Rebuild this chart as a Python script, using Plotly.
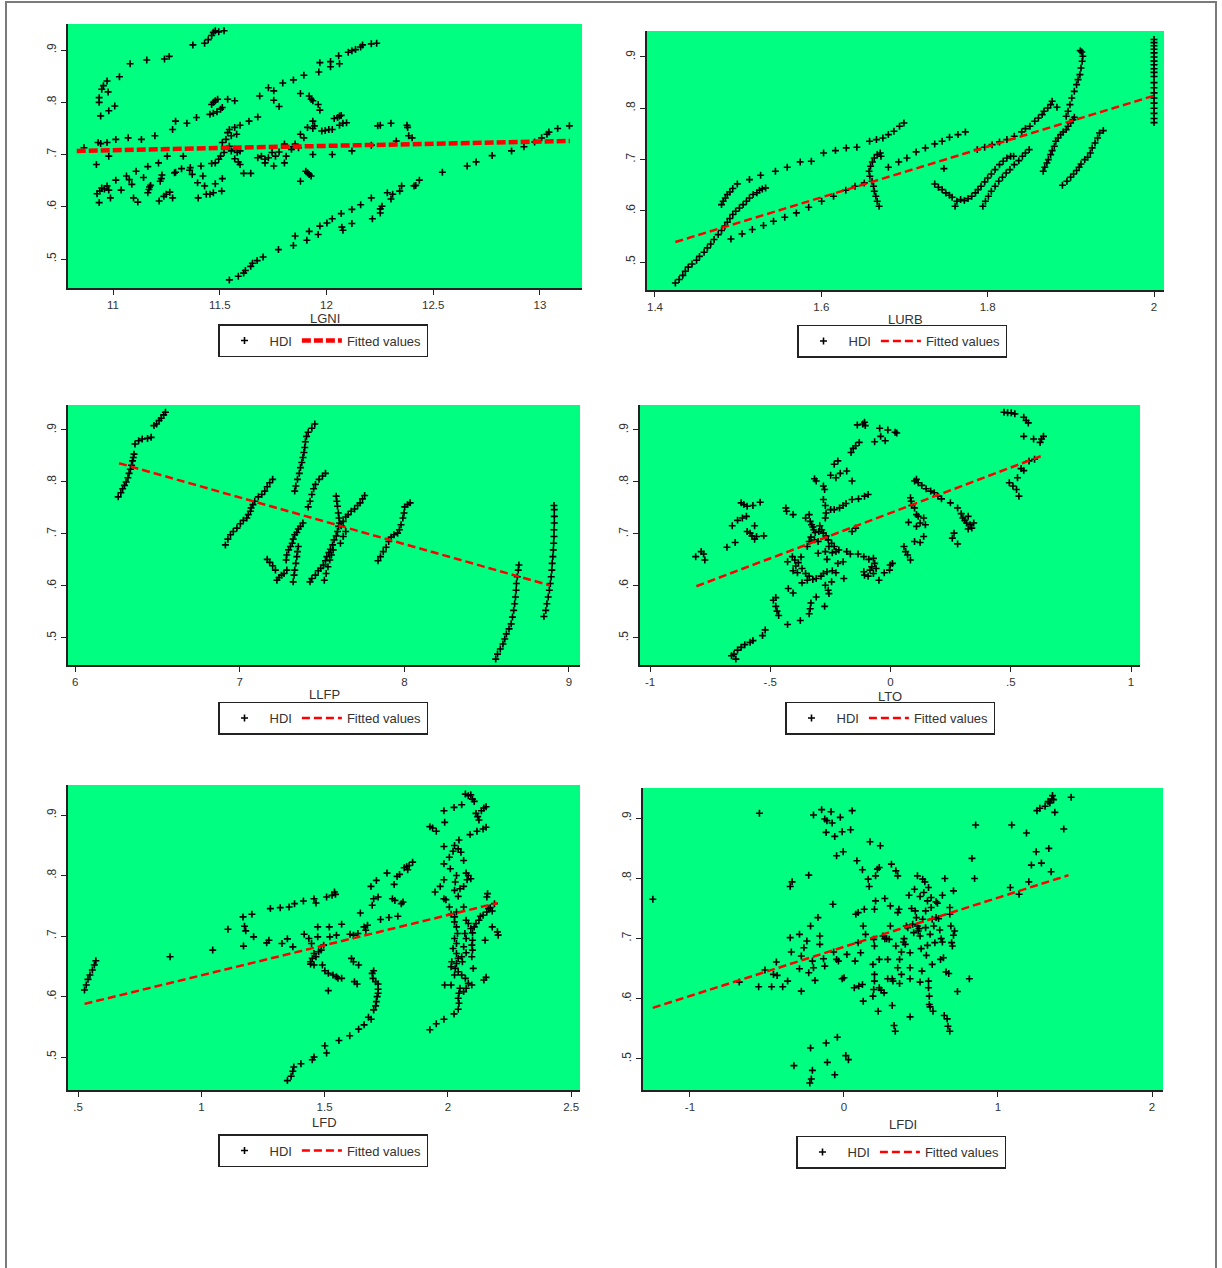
import plotly.graph_objects as go

# ---------------- data ----------------
LGNI_HDI = [
    (10.942, 0.774), (10.935, 0.800), (10.935, 0.809), (10.947, 0.825), (10.955, 0.832), (10.972, 0.841),
    (10.977, 0.820), (10.980, 0.784), (11.008, 0.793), (11.030, 0.849), (11.080, 0.874), (11.158, 0.881),
    (11.241, 0.883), (11.263, 0.888), (11.374, 0.910), (11.429, 0.913), (11.446, 0.920), (11.462, 0.928),
    (11.470, 0.934), (11.479, 0.937), (11.495, 0.935), (11.520, 0.937),
    (10.930, 0.723), (10.942, 0.721), (10.972, 0.723), (11.013, 0.729), (11.071, 0.732), (11.133, 0.729),
    (11.196, 0.736), (11.279, 0.748), (11.293, 0.764), (11.346, 0.760), (11.391, 0.771), (10.864, 0.713),
    (10.980, 0.697), (11.254, 0.697), (11.329, 0.697), (10.922, 0.681), (11.163, 0.677), (11.213, 0.684),
    (11.362, 0.675), (11.412, 0.678), (11.462, 0.683), (10.925, 0.625), (10.938, 0.630), (10.947, 0.636),
    (10.960, 0.634), (10.972, 0.640), (10.980, 0.632), (10.988, 0.617), (10.935, 0.608), (11.038, 0.632),
    (11.013, 0.651), (11.063, 0.659), (11.076, 0.652), (11.088, 0.643), (11.096, 0.617), (11.116, 0.609),
    (11.108, 0.668), (11.143, 0.656), (11.163, 0.627), (11.168, 0.633), (11.171, 0.638), (11.176, 0.641),
    (11.216, 0.611), (11.221, 0.649), (11.226, 0.654), (11.229, 0.661), (11.238, 0.620), (11.249, 0.624),
    (11.266, 0.628), (11.279, 0.617), (11.288, 0.665), (11.293, 0.666), (11.321, 0.673), (11.359, 0.670),
    (11.371, 0.662), (11.396, 0.646), (11.399, 0.617), (11.421, 0.659), (11.429, 0.640), (11.437, 0.624),
    (11.454, 0.624), (11.479, 0.644), (11.470, 0.627), (11.512, 0.654), (11.509, 0.630),
    (11.462, 0.796), (11.470, 0.800), (11.479, 0.803), (11.490, 0.806), (11.537, 0.806), (11.570, 0.803),
    (11.454, 0.777), (11.470, 0.779), (11.487, 0.782), (11.504, 0.787), (11.512, 0.790),
    (11.512, 0.723), (11.529, 0.729), (11.537, 0.742), (11.545, 0.748), (11.554, 0.736), (11.570, 0.752),
    (11.579, 0.739), (11.595, 0.756), (11.637, 0.764), (11.545, 0.716), (11.554, 0.707), (11.570, 0.710),
    (11.582, 0.704), (11.595, 0.707), (11.520, 0.704), (11.504, 0.697), (11.495, 0.691), (11.479, 0.684),
    (11.570, 0.692), (11.587, 0.686), (11.595, 0.681), (11.612, 0.664), (11.645, 0.664), (11.678, 0.694),
    (11.695, 0.697), (11.712, 0.691), (11.728, 0.694), (11.745, 0.704), (11.761, 0.697), (11.778, 0.705),
    (11.803, 0.720), (11.811, 0.697), (11.845, 0.715), (11.853, 0.720), (11.869, 0.713), (11.878, 0.739),
    (11.894, 0.732), (11.911, 0.752), (11.753, 0.678), (11.803, 0.684), (11.836, 0.710), (11.712, 0.684),
    (11.936, 0.764), (11.936, 0.750), (11.936, 0.700), (11.903, 0.668), (11.911, 0.665), (11.919, 0.662),
    (11.928, 0.659), (11.878, 0.649),
    (11.678, 0.772), (11.687, 0.812), (11.728, 0.828), (11.753, 0.822), (11.753, 0.804), (11.778, 0.792),
    (11.795, 0.837), (11.845, 0.843), (11.894, 0.852), (11.964, 0.858), (11.969, 0.876), (12.019, 0.878),
    (12.019, 0.868), (12.061, 0.874), (12.057, 0.889), (12.102, 0.896), (12.119, 0.899), (12.136, 0.901),
    (12.160, 0.906), (12.169, 0.910), (12.210, 0.912), (12.235, 0.913),
    (11.878, 0.817), (11.919, 0.812), (11.928, 0.806), (11.936, 0.803), (11.961, 0.796), (11.969, 0.785),
    (11.944, 0.755), (11.978, 0.745), (11.994, 0.746), (12.011, 0.748), (12.027, 0.748), (12.036, 0.769),
    (12.052, 0.771), (12.061, 0.774), (12.069, 0.775), (12.077, 0.760), (12.094, 0.761), (12.061, 0.756),
    (12.027, 0.700), (12.119, 0.707), (12.210, 0.718), (12.240, 0.755), (12.252, 0.756), (12.302, 0.760),
    (12.327, 0.726), (12.377, 0.756), (12.380, 0.752), (12.385, 0.736), (12.401, 0.732),
    (11.545, 0.460), (11.587, 0.467), (11.612, 0.473), (11.620, 0.478), (11.645, 0.486), (11.653, 0.492),
    (11.675, 0.497), (11.703, 0.504), (11.775, 0.518), (11.845, 0.526), (11.853, 0.544), (11.908, 0.536),
    (11.919, 0.553), (11.961, 0.547), (11.969, 0.563), (12.002, 0.569), (12.027, 0.577), (12.069, 0.587),
    (12.072, 0.561), (12.077, 0.555), (12.119, 0.595), (12.119, 0.568), (12.160, 0.604), (12.210, 0.617),
    (12.215, 0.577), (12.252, 0.588), (12.252, 0.596), (12.260, 0.601), (12.285, 0.627), (12.302, 0.615),
    (12.310, 0.624), (12.343, 0.630), (12.352, 0.640), (12.410, 0.640), (12.418, 0.641), (12.435, 0.651),
    (12.543, 0.666), (12.659, 0.678), (12.701, 0.686), (12.776, 0.698), (12.867, 0.707), (12.925, 0.715),
    (12.975, 0.724), (13.008, 0.732), (13.033, 0.739), (13.042, 0.743), (13.083, 0.750), (13.138, 0.755),
]
LGNI_FIT_X = [10.83, 13.14]
LGNI_FIT_Y = [0.707, 0.726]

LURB_HDI = [
    (1.4245, 0.459), (1.429, 0.466), (1.4334, 0.474), (1.4365, 0.482), (1.440, 0.490), (1.4445, 0.496),
    (1.450, 0.5035), (1.4535, 0.511), (1.459, 0.519), (1.463, 0.5275), (1.467, 0.535), (1.471, 0.544),
    (1.476, 0.5535), (1.480, 0.5615), (1.484, 0.570), (1.487, 0.5776), (1.490, 0.5848), (1.4935, 0.5926),
    (1.497, 0.599), (1.5015, 0.6055), (1.506, 0.612), (1.510, 0.6185), (1.5136, 0.625), (1.518, 0.6316),
    (1.5225, 0.635), (1.5256, 0.640), (1.529, 0.6426), (1.533, 0.6446),
    (1.480, 0.612), (1.482, 0.6185), (1.4846, 0.625), (1.487, 0.6316), (1.490, 0.6368), (1.4935, 0.6433),
    (1.499, 0.6524),
    (1.5136, 0.6608), (1.527, 0.6693), (1.5448, 0.677), (1.559, 0.6849), (1.5746, 0.6953), (1.588, 0.6966),
    (1.6027, 0.7128), (1.617, 0.7174), (1.630, 0.7226), (1.6427, 0.724), (1.658, 0.7356), (1.6663, 0.7388),
    (1.674, 0.742), (1.6806, 0.7486), (1.6873, 0.755), (1.694, 0.7648), (1.6993, 0.7713),
    (1.4913, 0.545), (1.5047, 0.5549), (1.517, 0.5633), (1.5305, 0.5711), (1.5425, 0.5796), (1.556, 0.5874),
    (1.570, 0.5958), (1.5848, 0.6068), (1.6004, 0.6186), (1.6147, 0.6283), (1.6294, 0.640), (1.6405, 0.6478),
    (1.6516, 0.6543),
    (1.6695, 0.6088), (1.6672, 0.6186), (1.6655, 0.6283), (1.6637, 0.638), (1.6628, 0.6478), (1.661, 0.6576),
    (1.6583, 0.6673), (1.6574, 0.677), (1.6592, 0.6868), (1.6614, 0.6952), (1.6637, 0.703), (1.6672, 0.7096),
    (1.6708, 0.7128), (1.6717, 0.7063),
    (1.6806, 0.6849), (1.693, 0.6953), (1.7029, 0.703), (1.714, 0.7148), (1.7251, 0.7226), (1.7363, 0.7304),
    (1.7452, 0.7356), (1.7541, 0.7434), (1.7643, 0.7486), (1.7732, 0.7538),
    (1.7363, 0.6523), (1.7407, 0.6458), (1.7452, 0.6413), (1.7496, 0.6348), (1.7541, 0.6302), (1.7572, 0.6263),
    (1.7608, 0.6088), (1.763, 0.6186), (1.7675, 0.6218), (1.772, 0.6198), (1.7764, 0.6237), (1.7808, 0.6283),
    (1.7853, 0.6348), (1.7884, 0.6413), (1.792, 0.6478), (1.7964, 0.6563), (1.800, 0.664), (1.8044, 0.6718),
    (1.8089, 0.6803), (1.8142, 0.690), (1.8187, 0.6966), (1.8231, 0.703), (1.8276, 0.7063), (1.8312, 0.7063),
    (1.7474, 0.6822),
    (1.7942, 0.6088), (1.7973, 0.6186), (1.8009, 0.6283), (1.8044, 0.638), (1.8089, 0.6478), (1.8133, 0.6576),
    (1.8178, 0.6654), (1.8222, 0.6738), (1.8267, 0.6803), (1.832, 0.690), (1.8374, 0.6978), (1.8418, 0.7063),
    (1.8454, 0.7128), (1.8499, 0.7193),
    (1.7875, 0.7193), (1.7964, 0.7239), (1.8053, 0.729), (1.8142, 0.7343), (1.8231, 0.7388), (1.832, 0.7453),
    (1.8409, 0.7538), (1.8454, 0.7603), (1.8508, 0.7648), (1.8566, 0.7746), (1.861, 0.781), (1.8655, 0.7876),
    (1.8677, 0.794), (1.8722, 0.8006), (1.8757, 0.807), (1.8775, 0.8136), (1.8833, 0.8019),
    (1.8668, 0.677), (1.8686, 0.6849), (1.8712, 0.6933), (1.873, 0.6998), (1.8757, 0.7095), (1.8775, 0.7173),
    (1.8801, 0.7258), (1.8819, 0.7356), (1.8846, 0.742), (1.8877, 0.7486), (1.8908, 0.7538), (1.8944, 0.7583),
    (1.8966, 0.7648), (1.8997, 0.7713), (1.9024, 0.7778), (1.9042, 0.7823),
    (1.8944, 0.7843), (1.8966, 0.794), (1.8989, 0.807), (1.9011, 0.820), (1.9042, 0.833), (1.9069, 0.846),
    (1.9087, 0.8558), (1.9109, 0.8655), (1.9122, 0.8786), (1.9136, 0.8916), (1.9144, 0.9013), (1.9131, 0.9098),
    (1.9113, 0.9124),
    (1.8899, 0.6498), (1.8953, 0.6576), (1.8998, 0.6654), (1.9033, 0.6718), (1.9069, 0.6784), (1.910, 0.6848),
    (1.9122, 0.6913), (1.9167, 0.6998), (1.9202, 0.7044), (1.9234, 0.7128), (1.9256, 0.7226), (1.9291, 0.7323),
    (1.9322, 0.742), (1.9345, 0.7518), (1.939, 0.7564),
    (2.0, 0.934), (2.0, 0.928), (2.0, 0.922), (2.0, 0.915), (2.0, 0.908), (2.0, 0.900), (2.0, 0.892),
    (2.0, 0.885), (2.0, 0.877), (2.0, 0.870), (2.0, 0.862), (2.0, 0.850), (2.0, 0.840), (2.0, 0.830),
    (2.0, 0.820), (2.0, 0.810), (2.0, 0.800), (2.0, 0.790), (2.0, 0.780), (2.0, 0.772),
]
LURB_FIT_X = [1.4245, 2.001]
LURB_FIT_Y = [0.539, 0.825]

LLFP_HDI = [
    (6.262, 0.7714), (6.278, 0.7792), (6.289, 0.787), (6.300, 0.7934), (6.310, 0.800), (6.321, 0.8082),
    (6.328, 0.8166), (6.336, 0.8244), (6.343, 0.8321), (6.349, 0.8405), (6.354, 0.847), (6.358, 0.8535),
    (6.364, 0.8729), (6.386, 0.8793), (6.408, 0.8825), (6.440, 0.8838), (6.462, 0.8858), (6.479, 0.9084),
    (6.495, 0.9116), (6.510, 0.9181), (6.523, 0.9226), (6.538, 0.929), (6.549, 0.9342),
    (6.913, 0.679), (6.928, 0.690), (6.944, 0.6984), (6.961, 0.7048), (6.983, 0.7113), (7.004, 0.7197),
    (7.022, 0.7262), (7.043, 0.7307), (7.052, 0.7372), (7.065, 0.7436), (7.069, 0.7501), (7.080, 0.7565),
    (7.091, 0.763), (7.113, 0.7714), (7.134, 0.7759), (7.152, 0.7824), (7.167, 0.7908), (7.182, 0.7985),
    (7.200, 0.805),
    (7.167, 0.6512), (7.182, 0.6454), (7.200, 0.6389), (7.217, 0.6305), (7.226, 0.6111), (7.239, 0.6163),
    (7.254, 0.6208), (7.269, 0.6241), (7.286, 0.6305),
    (7.282, 0.650), (7.286, 0.6596), (7.297, 0.6693), (7.308, 0.6758), (7.319, 0.6822), (7.325, 0.690),
    (7.334, 0.6984), (7.347, 0.7029), (7.356, 0.7094), (7.369, 0.7145), (7.384, 0.721),
    (7.325, 0.6079), (7.330, 0.6208), (7.334, 0.6305), (7.341, 0.6435), (7.347, 0.6564), (7.351, 0.6661),
    (7.356, 0.6758),
    (7.334, 0.7824), (7.341, 0.7921), (7.351, 0.805), (7.362, 0.8166), (7.369, 0.8276), (7.377, 0.8373),
    (7.384, 0.847), (7.390, 0.8567), (7.395, 0.8664), (7.399, 0.8774), (7.406, 0.8877), (7.416, 0.8955),
    (7.438, 0.9032), (7.456, 0.9116),
    (7.416, 0.752), (7.427, 0.763), (7.438, 0.7759), (7.449, 0.7869), (7.460, 0.7953), (7.482, 0.805),
    (7.503, 0.8115), (7.521, 0.8166),
    (7.427, 0.6079), (7.438, 0.6144), (7.460, 0.6208), (7.477, 0.6292), (7.492, 0.6338), (7.508, 0.6402),
    (7.521, 0.6486), (7.529, 0.6564), (7.542, 0.6642), (7.551, 0.6706), (7.564, 0.679), (7.573, 0.6887),
    (7.586, 0.6964), (7.594, 0.7048), (7.601, 0.7145),
    (7.514, 0.6111), (7.525, 0.6241), (7.536, 0.637), (7.547, 0.650), (7.557, 0.6596), (7.568, 0.6693),
    (7.586, 0.7727), (7.590, 0.763), (7.594, 0.7533), (7.599, 0.7404), (7.603, 0.7307), (7.607, 0.721),
    (7.616, 0.7158), (7.629, 0.7242), (7.644, 0.7326), (7.659, 0.7372), (7.677, 0.7436), (7.698, 0.7481),
    (7.716, 0.7546), (7.731, 0.7598), (7.746, 0.7675), (7.759, 0.774),
    (7.612, 0.6822), (7.629, 0.6951), (7.644, 0.7048),
    (7.840, 0.6486), (7.855, 0.6564), (7.872, 0.6661), (7.889, 0.6745), (7.905, 0.6855), (7.920, 0.6939),
    (7.937, 0.6984), (7.959, 0.7016), (7.970, 0.7081), (7.980, 0.7178), (7.991, 0.7307), (7.998, 0.7404),
    (8.002, 0.752), (8.020, 0.7565), (8.035, 0.7598),
    (8.555, 0.4593), (8.566, 0.469), (8.583, 0.4787), (8.599, 0.4884), (8.610, 0.4981), (8.620, 0.5078),
    (8.636, 0.5174), (8.649, 0.5271), (8.657, 0.5401), (8.664, 0.553), (8.670, 0.5659), (8.675, 0.5788),
    (8.679, 0.5918), (8.681, 0.6047), (8.686, 0.6176), (8.692, 0.6305), (8.696, 0.6402),
    (8.848, 0.5414), (8.859, 0.553), (8.866, 0.5659), (8.874, 0.5788), (8.881, 0.5918), (8.887, 0.6047),
    (8.892, 0.6176), (8.896, 0.6305), (8.898, 0.6435), (8.902, 0.6564), (8.905, 0.6693), (8.907, 0.6822),
    (8.909, 0.6952), (8.909, 0.7081), (8.911, 0.721), (8.911, 0.7339), (8.911, 0.7468), (8.909, 0.7546),
]
LLFP_FIT_X = [6.267, 8.881]
LLFP_FIT_Y = [0.836, 0.6015]

LTO_HDI = [
    (-0.810, 0.6564), (-0.787, 0.6661), (-0.777, 0.6616), (-0.772, 0.650), (-0.680, 0.6745), (-0.646, 0.6835),
    (-0.658, 0.7158), (-0.636, 0.7262), (-0.616, 0.7307), (-0.599, 0.7339), (-0.621, 0.7598), (-0.610, 0.7565),
    (-0.596, 0.7533), (-0.572, 0.7546), (-0.542, 0.7611), (-0.596, 0.7048), (-0.584, 0.7016), (-0.576, 0.6964),
    (-0.565, 0.690), (-0.557, 0.6951), (-0.565, 0.7158), (-0.527, 0.6964), (-0.435, 0.7501), (-0.432, 0.7436),
    (-0.405, 0.7372),
    (-0.353, 0.7307), (-0.338, 0.7372), (-0.334, 0.7242), (-0.328, 0.7178), (-0.323, 0.7133), (-0.319, 0.7081),
    (-0.313, 0.7029), (-0.331, 0.6939), (-0.338, 0.6855), (-0.346, 0.6758), (-0.316, 0.6887), (-0.301, 0.6855),
    (-0.298, 0.7048), (-0.286, 0.7081), (-0.294, 0.7158), (-0.279, 0.7016), (-0.268, 0.6964), (-0.259, 0.6887),
    (-0.256, 0.6758), (-0.245, 0.6822), (-0.234, 0.6758), (-0.242, 0.6641), (-0.227, 0.6661), (-0.215, 0.6693),
    (-0.182, 0.6661), (-0.167, 0.6616), (-0.301, 0.6629), (-0.271, 0.6661), (-0.264, 0.6512), (-0.428, 0.6467),
    (-0.408, 0.6564), (-0.398, 0.650), (-0.383, 0.6448), (-0.372, 0.6557), (-0.394, 0.6383), (-0.405, 0.6292),
    (-0.387, 0.6253), (-0.368, 0.6337), (-0.353, 0.6241), (-0.338, 0.6189), (-0.323, 0.6124), (-0.309, 0.6143),
    (-0.289, 0.6189), (-0.279, 0.6241), (-0.264, 0.6273), (-0.242, 0.6292), (-0.227, 0.6253), (-0.245, 0.6079),
    (-0.368, 0.606), (-0.346, 0.6111), (-0.219, 0.6434), (-0.197, 0.6467), (-0.194, 0.6143), (-0.425, 0.595),
    (-0.405, 0.5866), (-0.477, 0.5776), (-0.487, 0.5724), (-0.477, 0.5608), (-0.472, 0.5517), (-0.465, 0.5433),
    (-0.428, 0.5259), (-0.375, 0.5336), (-0.338, 0.5465), (-0.334, 0.5563), (-0.331, 0.5672), (-0.309, 0.5789),
    (-0.274, 0.5608), (-0.271, 0.6015), (-0.259, 0.5918), (-0.256, 0.5853), (-0.521, 0.5155), (-0.532, 0.5045),
    (-0.572, 0.4949), (-0.584, 0.4916), (-0.606, 0.4871), (-0.621, 0.4819), (-0.636, 0.4767), (-0.651, 0.469),
    (-0.661, 0.4658), (-0.643, 0.4593),
    (-0.316, 0.8063), (-0.309, 0.8018), (-0.279, 0.7921), (-0.274, 0.7856), (-0.279, 0.7662), (-0.271, 0.7546),
    (-0.268, 0.7404), (-0.271, 0.7307), (-0.249, 0.7468), (-0.234, 0.7468), (-0.212, 0.7501), (-0.197, 0.7546),
    (-0.185, 0.7585), (-0.160, 0.7662), (-0.133, 0.7675), (-0.108, 0.7727), (-0.093, 0.7759), (-0.249, 0.8128),
    (-0.227, 0.8082), (-0.209, 0.8166), (-0.182, 0.8212), (-0.160, 0.8018), (-0.234, 0.8341), (-0.219, 0.8405),
    (-0.164, 0.8567), (-0.155, 0.8645), (-0.145, 0.8696), (-0.130, 0.8761), (-0.138, 0.9097), (-0.115, 0.9116),
    (-0.105, 0.9084), (-0.108, 0.9149), (-0.066, 0.8774), (-0.045, 0.9032), (-0.041, 0.8877), (-0.022, 0.8793),
    (-0.011, 0.900), (0.019, 0.8955), (0.026, 0.8942), (-0.160, 0.7048), (-0.145, 0.7113),
    (-0.135, 0.6616), (-0.111, 0.6564), (-0.090, 0.6512), (-0.071, 0.6531), (-0.066, 0.6434), (-0.078, 0.637),
    (-0.085, 0.6305), (-0.111, 0.6273), (-0.108, 0.6208), (-0.093, 0.6189), (-0.071, 0.6241), (-0.048, 0.6111),
    (-0.026, 0.6253), (-0.004, 0.6305), (-0.001, 0.6402), (0.008, 0.6434), (-0.060, 0.6337),
    (0.083, 0.7695), (0.086, 0.763), (0.088, 0.7546), (0.100, 0.8018), (0.108, 0.805), (0.115, 0.7985),
    (0.130, 0.7934), (0.148, 0.787), (0.167, 0.7824), (0.182, 0.7792), (0.197, 0.7727), (0.212, 0.7675),
    (0.100, 0.7501), (0.108, 0.7372), (0.115, 0.7339), (0.123, 0.721), (0.138, 0.7307), (0.145, 0.7178),
    (0.075, 0.7223), (0.108, 0.7145), (0.138, 0.6951), (0.123, 0.6835), (0.100, 0.6855), (0.056, 0.6758),
    (0.063, 0.6661), (0.071, 0.6596), (0.083, 0.6499), (0.249, 0.7598), (0.279, 0.7501), (0.294, 0.7391),
    (0.301, 0.7307), (0.309, 0.7262), (0.316, 0.721), (0.323, 0.7339), (0.331, 0.7178), (0.338, 0.7113),
    (0.346, 0.721), (0.323, 0.7094), (0.264, 0.7016), (0.257, 0.6919), (0.279, 0.6809),
    (0.472, 0.9342), (0.487, 0.9329), (0.502, 0.9329), (0.517, 0.931), (0.554, 0.9245), (0.564, 0.9181),
    (0.573, 0.9136), (0.554, 0.8877), (0.595, 0.8825), (0.622, 0.8761), (0.628, 0.8825), (0.636, 0.8877),
    (0.494, 0.7985), (0.509, 0.7921), (0.524, 0.7856), (0.534, 0.7727), (0.528, 0.8082), (0.543, 0.8257),
    (0.554, 0.8218), (0.576, 0.8405), (0.599, 0.8438),
]
LTO_FIT_X = [-0.807, 0.636]
LTO_FIT_Y = [0.5995, 0.8515]

LFD_HDI = [
    (0.526, 0.6108), (0.533, 0.619), (0.540, 0.6284), (0.548, 0.6355), (0.558, 0.6438), (0.566, 0.652),
    (0.572, 0.6591), (0.873, 0.6657), (1.046, 0.6767), (1.108, 0.7112), (1.169, 0.7316), (1.171, 0.6833),
    (1.175, 0.7162), (1.180, 0.7085), (1.205, 0.7359), (1.212, 0.6986), (1.265, 0.6887), (1.274, 0.6931),
    (1.280, 0.7453), (1.320, 0.7469), (1.327, 0.6877), (1.349, 0.6953), (1.356, 0.748), (1.378, 0.7535),
    (1.414, 0.7579), (1.417, 0.703), (1.457, 0.7617), (1.465, 0.7546), (1.508, 0.7645), (1.530, 0.7672),
    (1.540, 0.7727), (1.544, 0.7689), (1.371, 0.6821), (1.436, 0.6959), (1.447, 0.6876), (1.457, 0.6712),
    (1.450, 0.663), (1.443, 0.6575), (1.443, 0.6536), (1.457, 0.652), (1.465, 0.6657), (1.476, 0.6739),
    (1.486, 0.6767), (1.472, 0.7151), (1.472, 0.6986), (1.496, 0.6849), (1.519, 0.7151), (1.521, 0.6986),
    (1.548, 0.7014), (1.569, 0.7195), (1.491, 0.652), (1.501, 0.6427), (1.515, 0.6383), (1.534, 0.6355),
    (1.548, 0.6328), (1.554, 0.630), (1.569, 0.630), (1.515, 0.6097), (1.609, 0.663), (1.617, 0.6575),
    (1.603, 0.703), (1.617, 0.7014), (1.635, 0.7041), (1.638, 0.652), (1.621, 0.6246), (1.632, 0.6207),
    (1.645, 0.7381), (1.660, 0.7151), (1.667, 0.7096), (1.674, 0.7178), (1.688, 0.782), (1.693, 0.7508),
    (1.699, 0.7617), (1.710, 0.7919), (1.717, 0.7645), (1.727, 0.7272), (1.753, 0.804), (1.761, 0.7305),
    (1.775, 0.7617), (1.785, 0.7589), (1.782, 0.7853), (1.794, 0.7985), (1.797, 0.7327), (1.804, 0.8018),
    (1.811, 0.7535), (1.818, 0.7562), (1.823, 0.8128), (1.833, 0.815), (1.837, 0.8095), (1.843, 0.8166),
    (1.857, 0.8221),
    (1.349, 0.461), (1.364, 0.4682), (1.371, 0.4764), (1.375, 0.4835), (1.404, 0.489), (1.450, 0.4956),
    (1.457, 0.500), (1.501, 0.5187), (1.508, 0.5066), (1.558, 0.5274), (1.602, 0.5351), (1.638, 0.5461),
    (1.660, 0.5532), (1.678, 0.5658), (1.689, 0.5625), (1.699, 0.5779), (1.707, 0.5845), (1.710, 0.5916),
    (1.713, 0.5999), (1.717, 0.6054), (1.717, 0.6119), (1.717, 0.6207), (1.707, 0.6246), (1.696, 0.630),
    (1.693, 0.6383), (1.699, 0.6427),
    (1.927, 0.545), (1.953, 0.5549), (1.984, 0.5625), (2.025, 0.5713), (2.042, 0.5789), (2.045, 0.5888),
    (2.042, 0.5971), (2.045, 0.6054), (1.987, 0.6191), (2.013, 0.6191), (2.049, 0.6136), (2.064, 0.6081),
    (2.074, 0.6136), (2.083, 0.6218), (2.097, 0.6191), (2.071, 0.630), (2.056, 0.6355), (2.042, 0.641),
    (2.027, 0.6355), (2.030, 0.6465), (2.013, 0.6492), (2.016, 0.6575), (2.035, 0.6547), (2.042, 0.663),
    (2.035, 0.6712), (2.021, 0.6794), (2.035, 0.6877), (2.027, 0.6959), (2.039, 0.7041), (2.035, 0.7151),
    (2.027, 0.7233), (2.027, 0.7316), (2.035, 0.7398), (2.013, 0.7359), (2.006, 0.748), (1.992, 0.7601),
    (1.984, 0.7617), (1.948, 0.7727), (1.969, 0.782), (1.984, 0.793), (2.027, 0.7755), (2.042, 0.7656),
    (2.049, 0.7782), (2.064, 0.782), (2.078, 0.793), (2.083, 0.8001), (2.074, 0.804), (2.093, 0.7946),
    (2.030, 0.7892), (2.035, 0.8001), (1.984, 0.8193), (2.010, 0.8111), (2.006, 0.8303), (2.021, 0.8402),
    (2.027, 0.8495), (2.045, 0.8588), (2.042, 0.844), (2.053, 0.8385), (2.064, 0.8248), (1.984, 0.8479),
    (1.927, 0.8808), (1.938, 0.8786), (1.953, 0.8731), (1.987, 0.8879), (1.984, 0.9071), (2.025, 0.9126),
    (2.056, 0.917), (2.071, 0.9346), (2.083, 0.9318), (2.093, 0.9335), (2.100, 0.9263), (2.107, 0.9225),
    (2.114, 0.9027), (2.121, 0.8973), (2.126, 0.8918), (2.136, 0.9071), (2.146, 0.9115), (2.155, 0.9137),
    (2.118, 0.8731), (2.090, 0.8676), (2.143, 0.877), (2.155, 0.8797), (2.064, 0.748), (2.074, 0.7261),
    (2.083, 0.7206), (2.093, 0.7124), (2.100, 0.7052), (2.107, 0.7151), (2.114, 0.7206), (2.126, 0.7261),
    (2.132, 0.7327), (2.143, 0.7343), (2.158, 0.7398), (2.165, 0.7453), (2.158, 0.7645), (2.161, 0.770),
    (2.172, 0.7469), (2.180, 0.7414), (2.189, 0.7535), (2.180, 0.7151), (2.201, 0.7069), (2.204, 0.7014),
    (2.100, 0.6931), (2.097, 0.6849), (2.100, 0.6767), (2.097, 0.6657), (2.103, 0.6465), (2.151, 0.6931),
    (2.146, 0.6273), (2.155, 0.6317), (2.069, 0.7041), (2.074, 0.6959), (2.064, 0.6822), (2.074, 0.6723),
    (2.056, 0.6657), (2.059, 0.6575),
]
LFD_FIT_X = [0.526, 2.201]
LFD_FIT_Y = [0.5878, 0.7546]

LFDI_HDI = [
    (-1.241, 0.7652), (-0.549, 0.9078), (-0.349, 0.7863), (-0.337, 0.794), (-0.229, 0.8051), (-0.349, 0.7014),
    (-0.342, 0.6775), (-0.289, 0.7069), (-0.260, 0.6847), (-0.241, 0.6958), (-0.229, 0.6431), (-0.217, 0.7208),
    (-0.205, 0.6625), (-0.277, 0.6709), (-0.277, 0.6126), (-0.289, 0.6498), (-0.198, 0.6515), (-0.188, 0.6304),
    (-0.169, 0.7347), (-0.157, 0.7042), (-0.157, 0.6903), (-0.133, 0.6664), (-0.125, 0.6542), (-0.439, 0.6609),
    (-0.458, 0.6404), (-0.434, 0.6387), (-0.470, 0.6199), (-0.398, 0.6199), (-0.366, 0.6293), (-0.554, 0.6199),
    (-0.513, 0.6476), (-0.680, 0.6276), (-0.198, 0.905), (-0.145, 0.9139), (-0.125, 0.8983), (-0.111, 0.8956),
    (-0.116, 0.8761), (-0.084, 0.9105), (-0.077, 0.8917), (-0.060, 0.8695), (-0.024, 0.9011), (-0.012, 0.8772),
    (-0.048, 0.8373), (-0.005, 0.844), (0.043, 0.8806), (0.053, 0.9122), (-0.072, 0.7569), (-0.067, 0.6775),
    (-0.048, 0.6653), (-0.036, 0.6625), (-0.012, 0.6332), (0.000, 0.6349), (0.019, 0.6736), (0.072, 0.6625),
    (0.077, 0.7403), (0.092, 0.743), (0.108, 0.6764), (0.092, 0.6931), (0.084, 0.829), (0.120, 0.814),
    (0.067, 0.6182), (0.096, 0.621), (0.120, 0.6237), (0.125, 0.596), (0.125, 0.7208), (0.140, 0.7069),
    (0.132, 0.7486), (0.157, 0.7985), (0.164, 0.7863), (0.169, 0.8606), (0.188, 0.6043), (0.198, 0.6293),
    (0.193, 0.6154), (0.188, 0.657), (0.198, 0.6404), (0.205, 0.7624), (0.198, 0.7486), (0.205, 0.804),
    (0.217, 0.8151), (0.229, 0.8179), (0.236, 0.854), (0.193, 0.6986), (0.198, 0.6875), (0.222, 0.5793),
    (0.229, 0.6182), (0.241, 0.6143), (0.260, 0.6098), (0.229, 0.6653), (0.253, 0.7042), (0.265, 0.6997),
    (0.277, 0.6997), (0.265, 0.7663), (0.284, 0.6332), (0.284, 0.6653), (0.294, 0.6986), (0.301, 0.7208),
    (0.301, 0.7541), (0.308, 0.8234), (0.313, 0.6332), (0.313, 0.5888), (0.318, 0.6293), (0.325, 0.5555),
    (0.333, 0.5461), (0.337, 0.6875), (0.337, 0.8123), (0.349, 0.804), (0.357, 0.7486), (0.349, 0.743),
    (0.361, 0.6254), (0.361, 0.6653), (0.349, 0.6515), (0.373, 0.6775), (0.373, 0.6404), (0.386, 0.6942),
    (0.398, 0.6903), (0.390, 0.6997), (0.405, 0.7208), (0.414, 0.718), (0.422, 0.7718), (0.429, 0.6764),
    (0.429, 0.6515), (0.429, 0.6332), (0.429, 0.5699), (0.439, 0.7497), (0.446, 0.7236), (0.453, 0.7097),
    (0.458, 0.7818), (0.463, 0.7458), (0.470, 0.7347), (0.477, 0.804), (0.477, 0.7208), (0.482, 0.7125),
    (0.487, 0.7164), (0.494, 0.7696), (0.494, 0.7042), (0.501, 0.6831), (0.506, 0.6459), (0.494, 0.6276),
    (0.511, 0.7985), (0.511, 0.7319), (0.518, 0.7763), (0.525, 0.794), (0.530, 0.7458), (0.530, 0.718),
    (0.535, 0.672), (0.542, 0.7624), (0.542, 0.6886), (0.549, 0.7846), (0.549, 0.6293), (0.549, 0.6182),
    (0.554, 0.6043), (0.554, 0.5904), (0.559, 0.5865), (0.559, 0.7069), (0.566, 0.7514), (0.566, 0.768),
    (0.573, 0.7319), (0.573, 0.657), (0.578, 0.5793), (0.583, 0.7208), (0.590, 0.6931), (0.598, 0.7608),
    (0.607, 0.7586), (0.598, 0.7347), (0.614, 0.733), (0.622, 0.7141), (0.627, 0.6653), (0.631, 0.6997),
    (0.639, 0.6942), (0.639, 0.7718), (0.646, 0.6681), (0.651, 0.5721), (0.655, 0.7996), (0.663, 0.6443),
    (0.670, 0.5666), (0.675, 0.5544), (0.680, 0.642), (0.687, 0.546), (0.687, 0.7514), (0.687, 0.7403),
    (0.694, 0.7208), (0.699, 0.6931), (0.704, 0.6875), (0.711, 0.7053), (0.711, 0.7791), (0.718, 0.7125),
    (0.737, 0.612),
    (-0.325, 0.4889), (-0.217, 0.5183), (-0.205, 0.4811), (-0.212, 0.4667), (-0.222, 0.460), (-0.116, 0.5266),
    (-0.108, 0.4944), (-0.060, 0.4739), (-0.043, 0.5361), (0.012, 0.5056), (0.029, 0.4989),
    (0.831, 0.8329), (0.848, 0.7996), (0.855, 0.8883), (0.814, 0.6332), (1.080, 0.7846), (1.089, 0.8883),
    (1.137, 0.7735), (1.185, 0.875), (1.200, 0.794), (1.217, 0.8218), (1.248, 0.844), (1.253, 0.9122),
    (1.272, 0.9161), (1.282, 0.8251), (1.330, 0.8495), (1.337, 0.925), (1.349, 0.9316), (1.354, 0.9372),
    (1.361, 0.9305), (1.345, 0.8107), (1.369, 0.9094), (1.427, 0.8817), (1.475, 0.9344), (1.325, 0.9272),
    (1.306, 0.9194),
]
LFDI_FIT_X = [-1.241, 1.458]
LFDI_FIT_Y = [0.5849, 0.8051]

HDI_TICKS = [0.5, 0.6, 0.7, 0.8, 0.9]
HDI_TICKTEXT = [".5", ".6", ".7", ".8", ".9"]

# ---------------- layout helpers ----------------
W, H = 1222, 1268
FONT = "Liberation Sans, Arial, Helvetica, sans-serif"
GREEN = "#00FF80"
AXC = "#222222"
TXT = "#333333"

panels = [
    dict(name="LGNI", pts=LGNI_HDI, fx=LGNI_FIT_X, fy=LGNI_FIT_Y, px=(68, 582), py=(24, 288),
         xr=[10.789, 13.197], yr=[0.4445, 0.950], tv=[11, 11.5, 12, 12.5, 13], tt=["11", "11.5", "12", "12.5", "13"],
         lw=4.5, dash="9px,3px", title_y=318, leg=(323, 340.5)),
    dict(name="LURB", pts=LURB_HDI, fx=LURB_FIT_X, fy=LURB_FIT_Y, px=(647, 1164), py=(31, 290),
         xr=[1.3904, 2.012], yr=[0.4454, 0.9507], tv=[1.4, 1.6, 1.8, 2], tt=["1.4", "1.6", "1.8", "2"],
         lw=2.5, dash="8px,4px", title_y=319, leg=(902, 341)),
    dict(name="LLFP", pts=LLFP_HDI, fx=LLFP_FIT_X, fy=LLFP_FIT_Y, px=(68, 580), py=(405, 665),
         xr=[5.957, 9.067], yr=[0.448, 0.948], tv=[6, 7, 8, 9], tt=["6", "7", "8", "9"],
         lw=2.5, dash="8px,4px", title_y=694, leg=(323, 718)),
    dict(name="LTO", pts=LTO_HDI, fx=LTO_FIT_X, fy=LTO_FIT_Y, px=(640, 1140), py=(405, 665),
         xr=[-1.0416, 1.0374], yr=[0.448, 0.948], tv=[-1, -0.5, 0, 0.5, 1], tt=["-1", "-.5", "0", ".5", "1"],
         lw=2.5, dash="8px,4px", title_y=696, leg=(890, 718)),
    dict(name="LFD", pts=LFD_HDI, fx=LFD_FIT_X, fy=LFD_FIT_Y, px=(68, 580), py=(785, 1090),
         xr=[0.459, 2.536], yr=[0.4455, 0.9496], tv=[0.5, 1, 1.5, 2, 2.5], tt=[".5", "1", "1.5", "2", "2.5"],
         lw=2.5, dash="8px,4px", title_y=1122, leg=(323, 1150.5)),
    dict(name="LFDI", pts=LFDI_HDI, fx=LFDI_FIT_X, fy=LFDI_FIT_Y, px=(643, 1163), py=(788, 1090),
         xr=[-1.305, 2.0714], yr=[0.4485, 0.9498], tv=[-1, 0, 1, 2], tt=["-1", "0", "1", "2"],
         lw=2.5, dash="8px,4px", title_y=1124, leg=(901, 1152)),
]

fig = go.Figure()
layout = dict(
    width=W, height=H, autosize=False,
    margin=dict(l=0, r=0, t=0, b=0),
    paper_bgcolor="white", plot_bgcolor=GREEN,
    font=dict(family=FONT, size=12, color=TXT),
    showlegend=True,
)
annotations = []
for i, p in enumerate(panels, start=1):
    suf = "" if i == 1 else str(i)
    legname = "legend" if i == 1 else f"legend{i}"
    xs = [a for a, b in p["pts"]]
    ys = [b for a, b in p["pts"]]
    fig.add_trace(go.Scatter(
        x=xs, y=ys, mode="markers", name="HDI", legend=legname,
        xaxis="x" + suf, yaxis="y" + suf,
        marker=dict(symbol="cross-thin", size=5, color="black", line=dict(color="black", width=1.6)),
    ))
    fig.add_trace(go.Scatter(
        x=p["fx"], y=p["fy"], mode="lines", name="Fitted values", legend=legname,
        xaxis="x" + suf, yaxis="y" + suf,
        line=dict(color="#FF0000", width=p["lw"], dash=p["dash"]),
    ))
    x0, x1 = p["px"]
    y0, y1 = p["py"]
    layout["xaxis" + suf] = dict(
        domain=[x0 / W, x1 / W], range=p["xr"], anchor="y" + suf,
        showgrid=False, zeroline=False, showline=True, linecolor=AXC, linewidth=1.5,
        ticks="outside", ticklen=5, tickwidth=1, tickcolor=AXC,
        tickvals=p["tv"], ticktext=p["tt"], tickfont=dict(size=11.5, color=TXT, family=FONT),
    )
    layout["yaxis" + suf] = dict(
        domain=[1 - y1 / H, 1 - y0 / H], range=p["yr"], anchor="x" + suf,
        showgrid=False, zeroline=False, showline=True, linecolor=AXC, linewidth=1.5,
        ticks="outside", ticklen=5, tickwidth=1, tickcolor=AXC,
        tickvals=HDI_TICKS, ticktext=HDI_TICKTEXT, tickangle=-90,
        tickfont=dict(size=12, color=TXT, family=FONT),
    )
    annotations.append(dict(
        text=p["name"], x=(x0 + x1) / 2 / W, y=1 - p["title_y"] / H, xref="paper", yref="paper",
        xanchor="center", yanchor="middle", showarrow=False, font=dict(size=13, color=TXT, family=FONT),
    ))
    lx, ly = p["leg"]
    layout[legname] = dict(
        orientation="h", x=lx / W, y=1 - ly / H, xanchor="center", yanchor="middle",
        xref="paper", yref="paper",
        bordercolor="#222222", borderwidth=1.5, bgcolor="white",
        font=dict(size=13, color=TXT, family=FONT), itemwidth=40,
        tracegroupgap=0,
    )

layout["annotations"] = annotations
layout["shapes"] = [dict(
    type="rect", xref="paper", yref="paper", x0=6 / W, x1=1216 / W, y0=-0.02, y1=1 - 2 / H,
    line=dict(color="#7a7a7a", width=2), fillcolor="rgba(0,0,0,0)", layer="above",
)]
fig.update_layout(**layout)
fig.write_html(
    "out.html",
    config={"displayModeBar": False},
    post_script="document.body.style.margin='0px';document.body.style.overflow='hidden';",
)
